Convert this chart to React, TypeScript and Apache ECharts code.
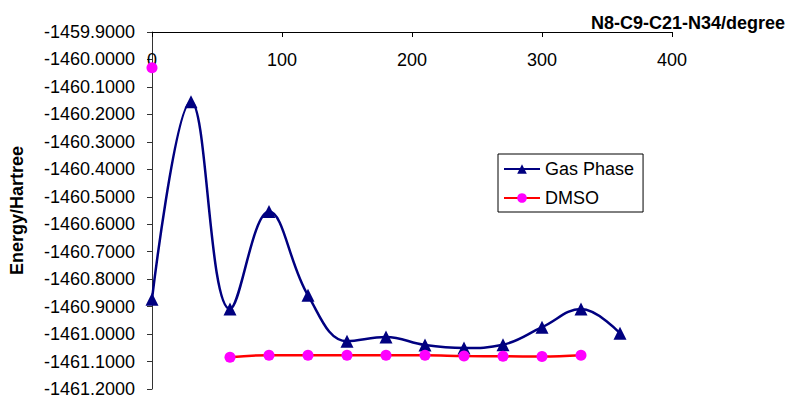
import React, { useEffect, useRef } from "react";
import * as echarts from "echarts";

const angles = [0, 30, 60, 90, 120, 150, 180, 210, 240, 270, 300, 330, 360];
const gasPhase = [
  -1460.873, -1460.154, -1460.909, -1460.554, -1460.859, -1461.026, -1461.011,
  -1461.04, -1461.051, -1461.039, -1460.975, -1460.909, -1460.997,
];
const dmso: (number | null)[] = [
  -1460.03, null, -1461.084, -1461.077, -1461.077, -1461.077, -1461.077,
  -1461.077, -1461.08, -1461.081, -1461.082, -1461.077,
];
const xTitle = "N8-C9-C21-N34/degree";
const yTitle = "Energy/Hartree";
const seriesNames = ["Gas Phase", "DMSO"];

export default function App() {
  const ref = useRef<HTMLDivElement>(null);
  useEffect(() => {
    if (!ref.current) return;
    const chart = echarts.init(ref.current, null, { renderer: "svg" });
    const font = "Liberation Sans, Arial, sans-serif";
    chart.setOption({
      animation: false,
      backgroundColor: "#fff",
      textStyle: { fontFamily: font },
      title: {
        text: xTitle,
        right: 4,
        top: 9,
        textStyle: { fontFamily: font, fontSize: 18, fontWeight: "bold", color: "#000" },
      },
      legend: {
        orient: "vertical",
        left: 498,
        top: 154,
        width: 144,
        borderColor: "#000",
        borderWidth: 1,
        padding: [5, 9, 4, 5],
        itemGap: 9,
        itemWidth: 36,
        itemHeight: 12,
        textStyle: { fontFamily: font, fontSize: 18, color: "#000", lineHeight: 20 },
        data: seriesNames,
      },
      grid: { left: 151, top: 32, right: 122, bottom: 8, containLabel: false },
      xAxis: {
        type: "value",
        position: "top",
        min: 0,
        max: 400,
        interval: 100,
        axisLine: { onZero: false, lineStyle: { color: "#000", width: 1 } },
        axisTick: { inside: true, length: 5, lineStyle: { color: "#000" } },
        axisLabel: { inside: true, margin: 19, fontSize: 18, color: "#000", fontFamily: font },
        splitLine: { show: false },
      },
      yAxis: {
        type: "value",
        min: -1461.2,
        max: -1459.9,
        interval: 0.1,
        name: yTitle,
        nameLocation: "middle",
        nameGap: 126,
        nameTextStyle: { fontFamily: font, fontSize: 18, fontWeight: "bold", color: "#000" },
        axisLine: { show: true, onZero: false, lineStyle: { color: "#333", width: 1 } },
        axisTick: { show: true, inside: false, length: 5, lineStyle: { color: "#333" } },
        axisLabel: {
          margin: 17,
          fontSize: 18,
          color: "#000",
          fontFamily: font,
          formatter: (v: number) => v.toFixed(4),
        },
        splitLine: { show: false },
      },
      series: [
        {
          name: seriesNames[0],
          type: "line",
          smooth: 0.4,
          data: angles.map((a, i) => [a, gasPhase[i]]),
          symbol: "triangle",
          symbolSize: 13,
          lineStyle: { color: "#000080", width: 2.5 },
          itemStyle: { color: "#000080" },
        },
        {
          name: seriesNames[1],
          type: "line",
          smooth: 0.4,
          connectNulls: false,
          data: dmso.map((v, i) => [angles[i], v === null ? "-" : v]),
          symbol: "circle",
          symbolSize: 11,
          lineStyle: { color: "#FF0000", width: 2.5 },
          itemStyle: { color: "#FF00FF" },
        },
      ],
    });
    return () => chart.dispose();
  }, []);
  return (
    <div
      ref={ref}
      style={{ position: "fixed", left: 0, top: 0, width: 794, height: 398 }}
    />
  );
}
